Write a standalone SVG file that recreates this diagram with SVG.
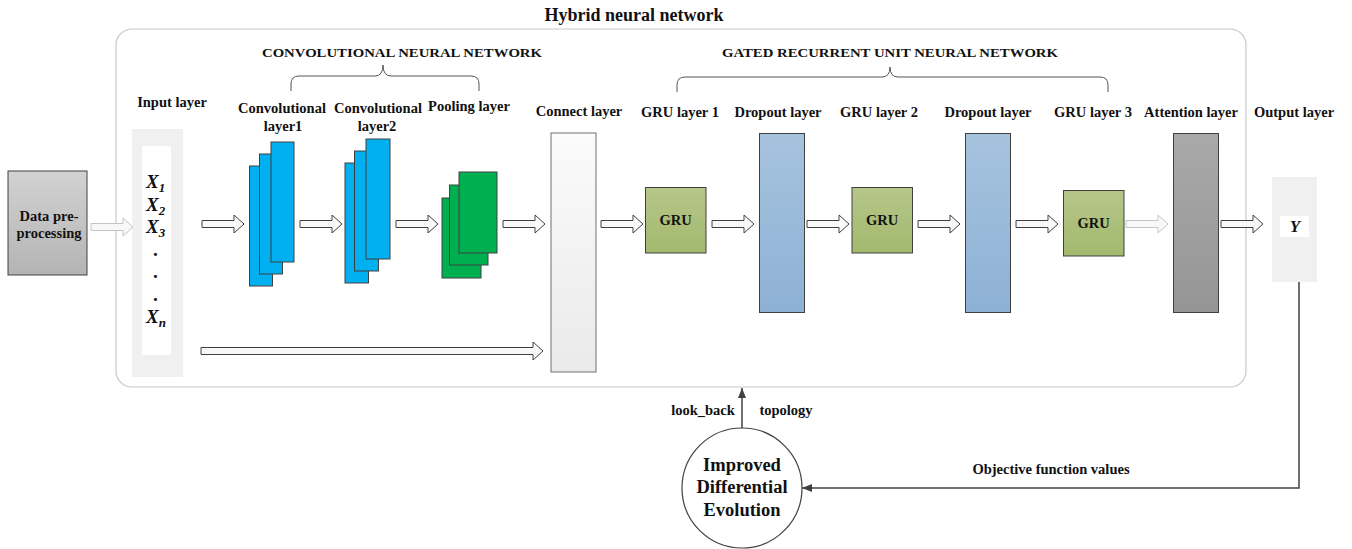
<svg xmlns="http://www.w3.org/2000/svg" width="1352" height="549" viewBox="0 0 1352 549">
  <defs>
    <linearGradient id="gPre" x1="0" y1="0" x2="0" y2="1">
      <stop offset="0" stop-color="#d2d2d2"/>
      <stop offset="1" stop-color="#b4b4b4"/>
    </linearGradient>
    <linearGradient id="gConnect" x1="0" y1="0" x2="0" y2="1">
      <stop offset="0" stop-color="#fbfbfb"/>
      <stop offset="1" stop-color="#eaeaea"/>
    </linearGradient>
    <linearGradient id="gGru" x1="0" y1="0" x2="0" y2="1">
      <stop offset="0" stop-color="#b6c68a"/>
      <stop offset="1" stop-color="#a2b96d"/>
    </linearGradient>
    <linearGradient id="gDrop" x1="0" y1="0" x2="0" y2="1">
      <stop offset="0" stop-color="#a6c3de"/>
      <stop offset="1" stop-color="#8db1d5"/>
    </linearGradient>
    <linearGradient id="gAtt" x1="0" y1="0" x2="0" y2="1">
      <stop offset="0" stop-color="#a9a9a9"/>
      <stop offset="1" stop-color="#959595"/>
    </linearGradient>
    <!-- hollow block arrow, 42px long, pointing right from the origin -->
    <path id="blk" d="M0,-3.5 H32 V-9 L42,0 L32,9 V3.5 H0 Z"/>
    <marker id="tip" viewBox="0 0 10 10" refX="10" refY="5" markerWidth="10" markerHeight="10" markerUnits="userSpaceOnUse" orient="auto">
      <path d="M0,1 L10,5 L0,9 Z" fill="#404040"/>
    </marker>
  </defs>
  <style>
    text { font-family: "Liberation Serif", "Times New Roman", serif; font-weight: bold; fill: #111; }
    .lbl { font-size: 14.5px; text-anchor: middle; }
    .head { font-size: 13.5px; text-anchor: middle; }
    .var { font-size: 19px; font-style: italic; }
    .sub { font-size: 13px; font-style: italic; }
    .box { stroke: #404040; stroke-width: 1; }
    .arr { fill: #f8f8f8; stroke: #404040; stroke-width: 1; }
    .arr-lt { fill: #f8f8f8; stroke: #c4c4c4; stroke-width: 1; }
    .brace { fill: none; stroke: #555; stroke-width: 1; }
    .link { fill: none; stroke: #404040; stroke-width: 1.5; }
  </style>

  <rect width="1352" height="549" fill="#ffffff"/>

  <!-- hybrid network frame -->
  <g id="frame">
    <rect x="116" y="29" width="1130" height="358" rx="16" ry="16" fill="none" stroke="#c8c8c8" stroke-width="1.2"/>
    <text x="634" y="21" style="font-size:18px;text-anchor:middle">Hybrid neural network</text>
  </g>

  <!-- sub-network headings with braces -->
  <g id="cnn-brace">
    <text x="402" y="57" class="head" textLength="280" lengthAdjust="spacingAndGlyphs">CONVOLUTIONAL NEURAL NETWORK</text>
    <path class="brace" d="M291,91 V84 Q291,76 299,76 H375 Q383,76 383,65 Q383,76 391,76 H471 Q479,76 479,84 V91"/>
  </g>
  <g id="gru-brace">
    <text x="890" y="57" class="head" textLength="336" lengthAdjust="spacingAndGlyphs">GATED RECURRENT UNIT NEURAL NETWORK</text>
    <path class="brace" d="M677,92 V85 Q677,77 685,77 H882 Q890,77 890,67 Q890,77 898,77 H1100 Q1108,77 1108,85 V92"/>
  </g>

  <!-- data pre-processing -->
  <g id="preprocess">
    <rect x="8" y="171" width="79" height="104" fill="url(#gPre)" class="box"/>
    <text x="49" y="221" class="lbl">Data pre-</text>
    <text x="49" y="238" class="lbl">processing</text>
  </g>

  <!-- input layer -->
  <g id="input-layer">
    <text x="172" y="107" class="lbl">Input layer</text>
    <rect x="132" y="129" width="51" height="248" fill="#f0f0f0"/>
    <rect x="142" y="146" width="29" height="209" fill="#ffffff"/>
    <text x="146" y="188" class="var">X<tspan class="sub" dy="4">1</tspan></text>
    <text x="146" y="211" class="var">X<tspan class="sub" dy="4">2</tspan></text>
    <text x="146" y="233" class="var">X<tspan class="sub" dy="4">3</tspan></text>
    <text x="156" y="256" class="var" style="text-anchor:middle">.</text>
    <text x="156" y="278" class="var" style="text-anchor:middle">.</text>
    <text x="156" y="301" class="var" style="text-anchor:middle">.</text>
    <text x="146" y="323" class="var">X<tspan class="sub" dy="4">n</tspan></text>
  </g>

  <!-- convolutional layer 1: feature maps stacked, top-right map in front -->
  <g id="conv1">
    <text x="282" y="113" class="lbl">Convolutional</text>
    <text x="283" y="131" class="lbl">layer1</text>
    <rect x="249.5" y="166" width="23" height="120" fill="#00b0f0" class="box"/>
    <rect x="259.5" y="154" width="23" height="120" fill="#00b0f0" class="box"/>
    <rect x="271" y="142" width="23" height="120" fill="#00b0f0" class="box"/>
  </g>

  <!-- convolutional layer 2 -->
  <g id="conv2">
    <text x="378" y="113" class="lbl">Convolutional</text>
    <text x="377" y="131" class="lbl">layer2</text>
    <rect x="345" y="163" width="23.5" height="120" fill="#00b0f0" class="box"/>
    <rect x="354.5" y="151" width="24" height="120" fill="#00b0f0" class="box"/>
    <rect x="366" y="139" width="24" height="120" fill="#00b0f0" class="box"/>
  </g>

  <!-- pooling layer -->
  <g id="pooling">
    <text x="469" y="111" class="lbl">Pooling layer</text>
    <rect x="442" y="198" width="39" height="80" fill="#00b050" class="box"/>
    <rect x="449.5" y="185" width="38.5" height="80" fill="#00b050" class="box"/>
    <rect x="459" y="172" width="38" height="81" fill="#00b050" class="box"/>
  </g>

  <!-- connect layer -->
  <g id="connect">
    <text x="579" y="116" class="lbl">Connect layer</text>
    <rect x="551" y="133" width="45" height="239" fill="url(#gConnect)" stroke="#707070" stroke-width="1"/>
  </g>

  <!-- GRU layer 1 -->
  <g id="gru1">
    <text x="680" y="117" class="lbl">GRU layer 1</text>
    <rect x="645.5" y="187.5" width="60.5" height="65.5" fill="url(#gGru)" class="box"/>
    <text x="675.5" y="225" class="lbl">GRU</text>
  </g>

  <!-- dropout layer 1 -->
  <g id="dropout1">
    <text x="778" y="117" class="lbl">Dropout layer</text>
    <rect x="759.5" y="133.5" width="45" height="179" fill="url(#gDrop)" class="box"/>
  </g>

  <!-- GRU layer 2 -->
  <g id="gru2">
    <text x="879" y="117" class="lbl">GRU layer 2</text>
    <rect x="852" y="187.5" width="60.5" height="65.5" fill="url(#gGru)" class="box"/>
    <text x="882" y="225" class="lbl">GRU</text>
  </g>

  <!-- dropout layer 2 -->
  <g id="dropout2">
    <text x="988" y="117" class="lbl">Dropout layer</text>
    <rect x="965.5" y="133.5" width="45" height="179" fill="url(#gDrop)" class="box"/>
  </g>

  <!-- GRU layer 3 -->
  <g id="gru3">
    <text x="1093" y="117" class="lbl">GRU layer 3</text>
    <rect x="1063.5" y="190.5" width="60.5" height="65.5" fill="url(#gGru)" class="box"/>
    <text x="1093.5" y="228" class="lbl">GRU</text>
  </g>

  <!-- attention layer -->
  <g id="attention">
    <text x="1191" y="117" class="lbl">Attention layer</text>
    <rect x="1173.5" y="133.5" width="45" height="179" fill="url(#gAtt)" class="box"/>
  </g>

  <!-- output layer -->
  <g id="output">
    <text x="1294" y="117" class="lbl">Output layer</text>
    <rect x="1272" y="177" width="45" height="105" fill="#f0f0f0"/>
    <rect x="1280" y="216" width="29" height="21" fill="#ffffff"/>
    <text x="1295" y="232" style="font-size:17px;font-style:italic;text-anchor:middle">Y</text>
  </g>

  <!-- optimiser -->
  <g id="ide">
    <circle cx="742" cy="488" r="60" fill="#ffffff" stroke="#404040" stroke-width="1.2"/>
    <text x="742" y="471" style="font-size:18.5px;text-anchor:middle">Improved</text>
    <text x="742" y="493" style="font-size:18.5px;text-anchor:middle">Differential</text>
    <text x="742" y="516" style="font-size:18.5px;text-anchor:middle">Evolution</text>
  </g>

  <!-- connectors -->
  <g id="connectors">
    <use href="#blk" class="arr-lt" transform="translate(91,227)"/>
    <use href="#blk" class="arr" transform="translate(202,224)"/>
    <use href="#blk" class="arr" transform="translate(300,224)"/>
    <use href="#blk" class="arr" transform="translate(396,224)"/>
    <use href="#blk" class="arr" transform="translate(503,224)"/>
    <use href="#blk" class="arr" transform="translate(601,224)"/>
    <use href="#blk" class="arr" transform="translate(712,224)"/>
    <use href="#blk" class="arr" transform="translate(807,224)"/>
    <use href="#blk" class="arr" transform="translate(918,224)"/>
    <use href="#blk" class="arr" transform="translate(1016,224)"/>
    <use href="#blk" class="arr-lt" transform="translate(1126,224)"/>
    <use href="#blk" class="arr" transform="translate(1221,224)"/>
    <!-- skip path from the input layer straight to the connect layer -->
    <path class="arr" d="M201,347.5 H533 V342 L543,351 L533,360 V354.5 H201 Z"/>
    <!-- hyper-parameters fed back into the network -->
    <line x1="742" y1="428" x2="742" y2="388" class="link" marker-end="url(#tip)"/>
    <text x="703" y="415" class="lbl">look_back</text>
    <text x="786" y="415" class="lbl">topology</text>
    <!-- objective value returned to the optimiser -->
    <polyline points="1299,282 1299,488 802,488" class="link" marker-end="url(#tip)"/>
    <text x="1051" y="474" class="lbl">Objective function values</text>
  </g>
</svg>
